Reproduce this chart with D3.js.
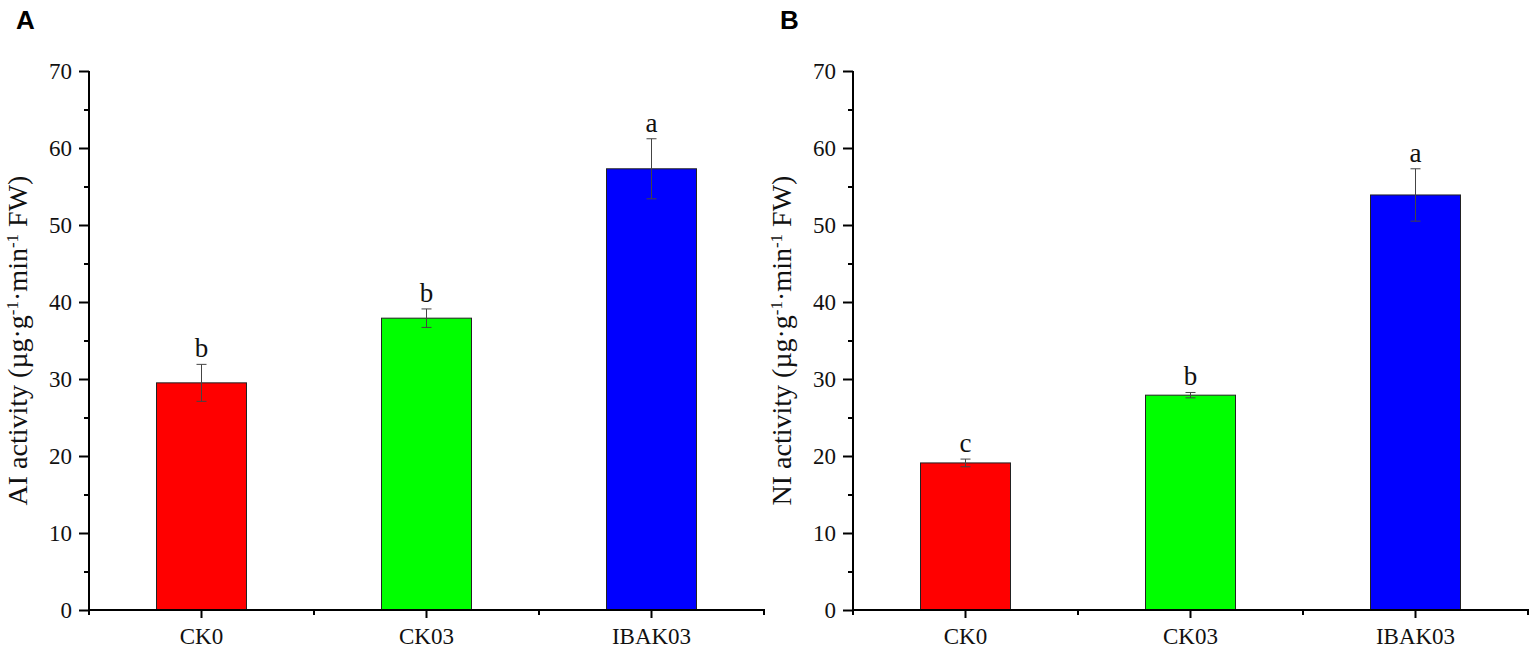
<!DOCTYPE html>
<html>
<head>
<meta charset="utf-8">
<script src="https://cdn.jsdelivr.net/npm/d3@7"></script>
<style>
  body { margin: 0; background: #fff; }
  .serif { font-family: "Liberation Serif", "Times New Roman", serif; }
  .sans { font-family: "Liberation Sans", Arial, sans-serif; }
</style>
</head>
<body>
<div id="chart"></div>
<script>
'use strict';

// data
var categories = ['CK0', 'CK03', 'IBAK03'];
var barColors = ['#ff0000', '#00ff00', '#0000ff'];

var aiMeans = [29.5, 37.9, 57.3];
var aiErrors = [2.4, 1.2, 3.9];
var aiLetters = ['b', 'b', 'a'];

var niMeans = [19.1, 27.9, 53.9];
var niErrors = [0.5, 0.35, 3.4];
var niLetters = ['c', 'b', 'a'];

var yMajorTicks = [0, 10, 20, 30, 40, 50, 60, 70];
var yMinorTicks = [5, 15, 25, 35, 45, 55, 65];

var width = 1535;
var height = 658;

var svg = d3.select('#chart').append('svg')
  .attr('width', width)
  .attr('height', height);

var yScale = d3.scaleLinear()
  .domain([0, 70])   //data space
  .range([610, 71]); //pixel space

function drawPanel(left, right, label, prefix, means, errors, letters) {
  var g = svg.append('g');

  var xScale = d3.scaleBand()
    .domain(categories)
    .range([left, right])
    .paddingInner(0.6)
    .paddingOuter(0.3);
  var step = xScale.step();

  // bars
  g.selectAll('.bar')
      .data(means)
    .enter().append('rect')
      .attr('class', 'bar')
      .attr('x', function(d, i){ return xScale(categories[i]); })
      .attr('y', function(d){ return yScale(d); })
      .attr('width', xScale.bandwidth())
      .attr('height', function(d){ return yScale(0) - yScale(d); })
      .attr('fill', function(d, i){ return barColors[i]; })
      .attr('stroke', '#222')
      .attr('stroke-width', 1);

  // error bars + significance letters
  var capHalf = 5;
  means.forEach(function(m, i){
    var cx = xScale(categories[i]) + xScale.bandwidth() / 2;
    var hi = yScale(m + errors[i]);
    var lo = yScale(m - errors[i]);
    g.append('line')
      .attr('x1', cx).attr('x2', cx)
      .attr('y1', hi).attr('y2', lo)
      .attr('stroke', '#444').attr('stroke-width', 1);
    [hi, lo].forEach(function(yy){
      g.append('line')
        .attr('x1', cx - capHalf).attr('x2', cx + capHalf)
        .attr('y1', yy).attr('y2', yy)
        .attr('stroke', '#444').attr('stroke-width', 1);
    });
    g.append('text')
      .attr('class', 'serif')
      .attr('x', cx)
      .attr('y', hi - 7)
      .attr('text-anchor', 'middle')
      .attr('font-size', 27)
      .attr('fill', '#111')
      .text(letters[i]);
  });

  // y axis
  var yAxis = d3.axisLeft(yScale)
    .tickValues(yMajorTicks)
    .tickSize(10)
    .tickSizeOuter(0)
    .tickPadding(7);
  var ya = g.append('g')
    .attr('transform', 'translate(' + left + ',0)')
    .call(yAxis);
  ya.attr('font-family', null).attr('font-size', null);
  ya.select('.domain').attr('stroke-width', 2).attr('d', 'M0,' + (yScale(0) + 5) + 'V' + yScale(70));
  ya.selectAll('.tick line').attr('stroke-width', 2);
  ya.selectAll('.tick text')
    .attr('class', 'serif')
    .attr('font-size', 23)
    .attr('fill', '#111');

  var yMinor = d3.axisLeft(yScale)
    .tickValues(yMinorTicks)
    .tickSize(5)
    .tickSizeOuter(0)
    .tickFormat('');
  var ym = g.append('g')
    .attr('transform', 'translate(' + left + ',0)')
    .call(yMinor);
  ym.select('.domain').remove();
  ym.selectAll('.tick line').attr('stroke-width', 2);

  // x axis
  var xAxis = d3.axisBottom(xScale)
    .tickSize(8)
    .tickSizeOuter(0)
    .tickPadding(10);
  var xa = g.append('g')
    .attr('transform', 'translate(0,' + yScale(0) + ')')
    .call(xAxis);
  xa.attr('font-family', null).attr('font-size', null);
  xa.select('.domain').attr('stroke-width', 2).attr('d', 'M' + (left - 1) + ',0H' + (right + 1));
  xa.selectAll('.tick line').attr('stroke-width', 2);
  xa.selectAll('.tick text')
    .attr('class', 'serif')
    .attr('font-size', 23)
    .attr('fill', '#111');

  // minor x ticks between the categories
  var minorX = categories.map(function(c){ return xScale(c) + xScale.bandwidth() / 2 - step / 2; });
  minorX.push(xScale(categories[categories.length - 1]) + xScale.bandwidth() / 2 + step / 2);
  g.selectAll('.xminor')
      .data(minorX)
    .enter().append('line')
      .attr('class', 'xminor')
      .attr('x1', function(d){ return d; })
      .attr('x2', function(d){ return d; })
      .attr('y1', yScale(0))
      .attr('y2', yScale(0) + 5)
      .attr('stroke', '#000')
      .attr('stroke-width', 2);

  // axis title with superscripts
  var title = g.append('text')
    .attr('class', 'serif')
    .attr('transform', 'translate(' + (left - 62) + ',' + (yScale(35)) + ') rotate(-90)')
    .attr('text-anchor', 'middle')
    .attr('font-size', 28)
    .attr('fill', '#111');
  title.append('tspan').text(prefix + ' activity (\u00b5g\u00b7g');
  title.append('tspan').attr('baseline-shift', 'super').attr('font-size', 17).text('-1');
  title.append('tspan').text('\u00b7min');
  title.append('tspan').attr('baseline-shift', 'super').attr('font-size', 17).text('-1');
  title.append('tspan').text(' FW)');

  // panel label
  svg.append('text')
    .attr('class', 'sans')
    .attr('x', left - 73)
    .attr('y', 29)
    .attr('font-weight', 'bold')
    .attr('font-size', 26)
    .attr('fill', '#000')
    .text(label);
}

drawPanel(89, 764, 'A', 'AI', aiMeans, aiErrors, aiLetters);
drawPanel(853, 1528, 'B', 'NI', niMeans, niErrors, niLetters);
</script>
</body>
</html>
